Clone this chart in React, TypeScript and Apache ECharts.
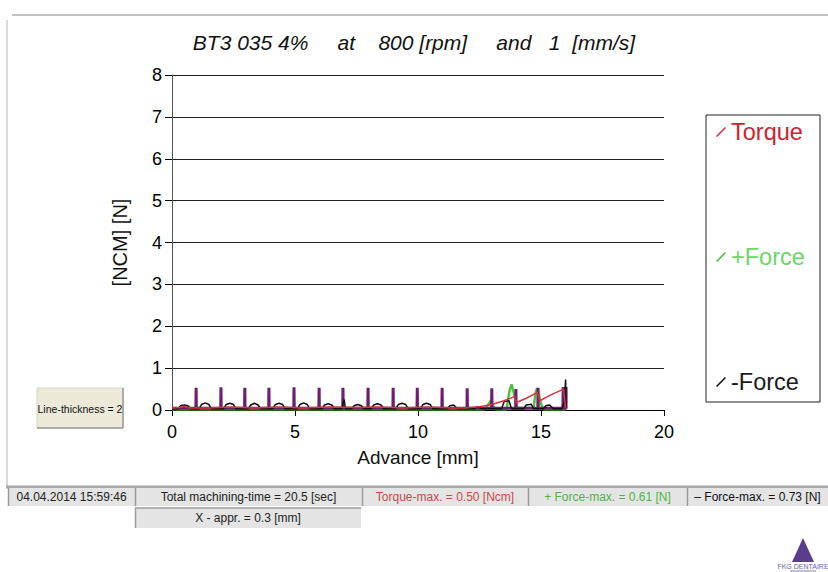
import React, { useEffect, useRef } from "react";
import * as echarts from "echarts";

// ---- data ----
const xTicks = [0, 5, 10, 15, 20];

// purple trace: baseline with a spike at every mm
const spikeX = [0.98, 1.99, 2.96, 3.94, 4.96, 5.98, 6.95, 7.97, 8.99, 9.97, 10.98, 12.0, 13.0, 13.98, 14.88, 15.9];
const spikeTop = [0.53, 0.54, 0.53, 0.53, 0.54, 0.53, 0.53, 0.53, 0.53, 0.53, 0.53, 0.52, 0.52, 0.5, 0.53, 0.55];
const baseLevel = 0.04;
const traceEnd = 16.02;

const torque: [number, number][] = [
  [0, 0.04], [0.3, 0.06], [0.5, 0.09], [0.7, 0.05], [1.5, 0.05], [2.4, 0.07], [3.3, 0.05],
  [4.4, 0.07], [5.3, 0.05], [6.4, 0.07], [7.5, 0.06], [8.4, 0.07], [9.4, 0.05], [10.4, 0.07],
  [11.4, 0.05], [11.9, 0.05], [12.5, 0.08], [13.0, 0.13], [13.5, 0.22], [13.92, 0.32],
  [14.0, 0.18], [14.4, 0.28], [14.86, 0.42], [14.95, 0.22], [15.4, 0.36], [15.92, 0.5], [16.0, 0.05],
];

const plusForce: [number, number][] = [
  [0, 0.02], [12.7, 0.02], [12.85, 0.12], [12.95, 0.22], [13.05, 0.1], [13.15, 0.02],
  [13.6, 0.02], [13.72, 0.45], [13.8, 0.61], [13.88, 0.45], [13.95, 0.28], [14.02, 0.05],
  [14.7, 0.05], [14.78, 0.42], [14.84, 0.52], [14.92, 0.35], [15.0, 0.15], [15.1, 0.02], [16.0, 0.02],
];

const minusForce: [number, number][] = [
  [0, 0.02], [0.25, 0.03], [0.35, 0.1], [0.5, 0.12], [0.65, 0.1], [0.75, 0.03],
  [1.1, 0.03], [1.2, 0.13], [1.35, 0.17], [1.5, 0.13], [1.6, 0.03],
  [2.1, 0.03], [2.2, 0.13], [2.35, 0.16], [2.5, 0.13], [2.6, 0.03],
  [3.1, 0.03], [3.2, 0.12], [3.35, 0.16], [3.5, 0.12], [3.6, 0.03],
  [4.1, 0.03], [4.2, 0.13], [4.35, 0.16], [4.5, 0.13], [4.6, 0.03],
  [5.1, 0.03], [5.2, 0.13], [5.35, 0.17], [5.5, 0.13], [5.6, 0.03],
  [6.1, 0.03], [6.2, 0.12], [6.35, 0.15], [6.5, 0.12], [6.6, 0.03],
  [6.9, 0.03], [7.0, 0.25], [7.05, 0.03],
  [7.3, 0.03], [7.4, 0.1], [7.55, 0.13], [7.7, 0.1], [7.8, 0.03],
  [8.1, 0.03], [8.2, 0.12], [8.35, 0.15], [8.5, 0.12], [8.6, 0.03],
  [9.1, 0.03], [9.2, 0.13], [9.35, 0.16], [9.5, 0.13], [9.6, 0.03],
  [10.1, 0.03], [10.2, 0.13], [10.35, 0.16], [10.5, 0.13], [10.6, 0.03],
  [11.2, 0.03], [11.3, 0.1], [11.45, 0.12], [11.6, 0.03],
  [12.3, 0.03], [12.4, 0.08], [12.6, 0.03],
  [13.4, 0.03], [13.5, 0.2], [13.7, 0.22], [13.8, 0.03],
  [14.3, 0.03], [14.4, 0.12], [14.6, 0.14], [14.7, 0.03],
  [15.1, 0.03], [15.2, 0.1], [15.35, 0.12], [15.5, 0.03],
  [15.85, 0.03], [15.95, 0.2], [16.0, 0.73], [16.02, 0.05],
];

const statusTexts = [
  "04.04.2014 15:59:46",
  "Total machining-time = 20.5 [sec]",
  "Torque-max. = 0.50 [Ncm]",
  "+ Force-max. = 0.61 [N]",
  "\u2013 Force-max. = 0.73 [N]",
];
const secondRowText = "X - appr. = 0.3 [mm]";
const titleText = "BT3 035 4%     at    800 [rpm]     and   1  [mm/s]";

const FONT = "Liberation Sans";

export default function App() {
  const ref = useRef<HTMLDivElement>(null);
  useEffect(() => {
    const chart = echarts.init(ref.current!, null, { renderer: "svg" });

    const purple: [number, number][] = [[0, baseLevel]];
    spikeX.forEach((x, i) => {
      purple.push([x - 0.01, baseLevel], [x, spikeTop[i]], [x + 0.01, baseLevel]);
    });
    purple.push([traceEnd, baseLevel], [traceEnd, spikeTop[spikeTop.length - 1]]);

    const cells = [
      { x: 8, w: 127, color: "#222" },
      { x: 135, w: 227, color: "#222" },
      { x: 362, w: 166, color: "#c9484b" },
      { x: 528, w: 159, color: "#4fb548" },
      { x: 687, w: 141, color: "#111" },
    ];
    const graphics: any[] = [
      { type: "line", shape: { x1: 12, y1: 15, x2: 828, y2: 15 }, style: { stroke: "#c4c4c4", lineWidth: 2 } },
      { type: "line", shape: { x1: 7, y1: 20, x2: 7, y2: 487 }, style: { stroke: "#cfcfcf", lineWidth: 1.5 } },
      { type: "line", shape: { x1: 6, y1: 487, x2: 828, y2: 487 }, style: { stroke: "#a8a8a8", lineWidth: 3 } },
      // legend box
      { type: "rect", shape: { x: 706, y: 115, width: 114, height: 287 }, style: { fill: "none", stroke: "#222", lineWidth: 1 } },
      // line-thickness button
      { type: "rect", shape: { x: 37, y: 388, width: 86, height: 40 }, style: { fill: "#ece9d8", stroke: "#d8d5c4", lineWidth: 1 } },
      { type: "line", shape: { x1: 37, y1: 428, x2: 123, y2: 428 }, style: { stroke: "#9a9a9a", lineWidth: 1.5 } },
      { type: "line", shape: { x1: 123, y1: 388, x2: 123, y2: 428 }, style: { stroke: "#9a9a9a", lineWidth: 1.5 } },
      { type: "text", x: 80, y: 409, style: { text: "Line-thickness = 2", fontSize: 10.5, fontFamily: FONT, fill: "#111", align: "center", verticalAlign: "middle" } },
    ];
    cells.forEach((c, i) => {
      graphics.push(
        { type: "rect", shape: { x: c.x, y: 488, width: c.w, height: 18 }, style: { fill: "#e4e4e4" } },
        { type: "line", shape: { x1: c.x + 0.5, y1: 488, x2: c.x + 0.5, y2: 506 }, style: { stroke: "#9c9c9c", lineWidth: 1.5 } },
        { type: "text", x: c.x + c.w / 2, y: 497, style: { text: statusTexts[i], fontSize: 12, fontFamily: FONT, fill: c.color, align: "center", verticalAlign: "middle" } }
      );
    });
    graphics.push(
      { type: "rect", shape: { x: 135, y: 508, width: 226, height: 20 }, style: { fill: "#e4e4e4" } },
      { type: "line", shape: { x1: 135, y1: 508, x2: 361, y2: 508 }, style: { stroke: "#9c9c9c", lineWidth: 1.5 } },
      { type: "line", shape: { x1: 135.5, y1: 508, x2: 135.5, y2: 528 }, style: { stroke: "#9c9c9c", lineWidth: 1.5 } },
      { type: "text", x: 248, y: 518, style: { text: secondRowText, fontSize: 12, fontFamily: FONT, fill: "#222", align: "center", verticalAlign: "middle" } },
      // logo
      { type: "polygon", shape: { points: [[792, 562], [803, 538], [814, 562]] }, style: { fill: "#5b3c8f" } },
      { type: "text", x: 803, y: 563, style: { text: "FKG DENTAIRE", fontSize: 7, fontFamily: FONT, fill: "#6d62a8", align: "center", verticalAlign: "top" } },
      { type: "rect", shape: { x: 790, y: 570, width: 26, height: 2 }, style: { fill: "#b9c4e0" } }
    );

    chart.setOption({
      animation: false,
      backgroundColor: "#fff",
      title: {
        text: titleText,
        left: "center",
        top: 27,
        textStyle: { fontSize: 21, fontStyle: "italic", fontWeight: "normal", color: "#111", fontFamily: FONT },
      },
      legend: {
        data: [
          { name: "Torque", textStyle: { color: "#d0222c" } },
          { name: "+Force", textStyle: { color: "#6ad868" } },
          { name: "-Force", textStyle: { color: "#1a1a1a" } },
        ],
        orient: "vertical",
        left: 716,
        top: 120,
        itemGap: 101,
        itemWidth: 10,
        itemHeight: 10,
        icon: "path://M0,9 L8,1 L9,2 L1,10 Z",
        textStyle: { fontSize: 23.5, fontFamily: FONT },
        padding: 0,
      },
      grid: { left: 172, top: 75, right: 164, bottom: 162, containLabel: false },
      xAxis: {
        type: "value",
        min: xTicks[0],
        max: xTicks[xTicks.length - 1],
        interval: 5,
        name: "Advance [mm]",
        nameLocation: "middle",
        nameGap: 38,
        nameTextStyle: { fontSize: 19, color: "#111", fontFamily: FONT },
        axisLine: { show: true, lineStyle: { color: "#000", width: 1 } },
        axisTick: { show: true, length: 6, lineStyle: { color: "#000" } },
        axisLabel: { fontSize: 18, color: "#000", margin: 13, fontFamily: FONT },
        splitLine: { show: false },
      },
      yAxis: {
        type: "value",
        min: 0,
        max: 8,
        interval: 1,
        name: "[NCM] [N]",
        nameLocation: "middle",
        nameGap: 42,
        nameRotate: 90,
        nameTextStyle: { fontSize: 20, color: "#111", fontFamily: FONT },
        axisLine: { show: true, lineStyle: { color: "#555", width: 1 } },
        axisTick: { show: true, length: 7, lineStyle: { color: "#000" } },
        axisLabel: { fontSize: 18, color: "#000", margin: 10, fontFamily: FONT },
        splitLine: { show: true, lineStyle: { color: "#222", width: 1 } },
      },
      series: [
        { name: "+Force", type: "line", data: plusForce, symbol: "none", color: "#4cc33a", lineStyle: { width: 2.5, color: "#4cc33a" }, z: 1 },
        { name: "Trace", type: "line", data: purple, symbol: "none", color: "#6d1e70", lineStyle: { width: 3, color: "#6d1e70" }, z: 2 },
        { name: "-Force", type: "line", data: minusForce, symbol: "none", color: "#111", lineStyle: { width: 1.5, color: "#111" }, z: 3 },
        { name: "Torque", type: "line", data: torque, symbol: "none", color: "#d8343f", lineStyle: { width: 1.5, color: "#d8343f" }, z: 4 },
      ],
      graphic: graphics,
    });
    return () => chart.dispose();
  }, []);
  return <div ref={ref} style={{ position: "absolute", left: 0, top: 0, width: 828, height: 572, background: "#fff" }} />;
}
